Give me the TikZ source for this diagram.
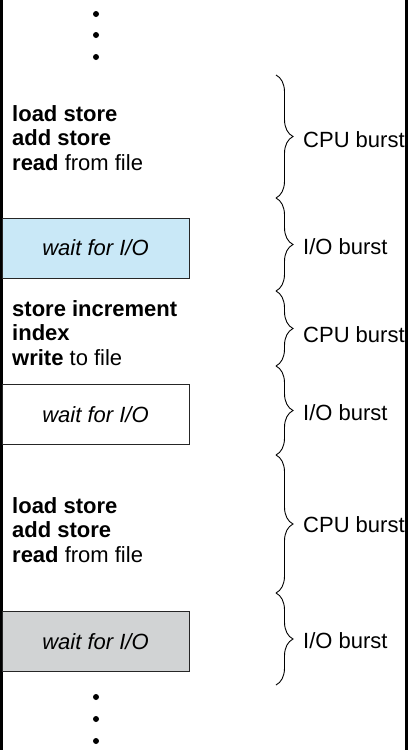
\documentclass[tikz,border=0pt]{standalone}
\usepackage{fontspec}
\setmainfont{Liberation Sans}
\usetikzlibrary{decorations.pathreplacing,positioning}
\definecolor{waitblue}{RGB}{201,232,247}
\definecolor{waitgray}{RGB}{209,211,212}

\begin{document}
\begin{tikzpicture}[x=1pt,y=-1pt,
   waitbox/.style={draw=black!85,line width=1pt,minimum width=187pt,minimum height=60pt,inner sep=0pt,font=\fontsize{22}{25}\selectfont\itshape},
   code/.style={anchor=west,align=left,inner sep=0pt,font=\fontsize{22}{24.5}\selectfont},
   burst/.style={decorate,decoration={brace,amplitude=17pt},line width=0.9pt},
   blabel/.style={anchor=west,inner sep=0pt,font=\fontsize{22}{25}\selectfont}]
   \useasboundingbox (0,0) rectangle (408,750);
   % edge bars
   \fill[black] (0,0) rectangle (2.5,750);
   \fill[black] (405,0) rectangle (408,750);
   % dots
   \foreach \y in {14,35,57,697,719,741}
      \fill (96,\y) circle (3pt);
   % instructions
   \node[code] (cpuA) at (12,138) {\textbf{load store}\\\textbf{add store}\\\textbf{read} from file};
   \node[waitbox,fill=waitblue] (ioA) at (95.5,248) {wait for I/O};
   \node[code] (cpuB) at (12,333) {\textbf{store increment}\\\textbf{index}\\\textbf{write} to file};
   \node[waitbox,fill=white] (ioB) at (95.5,414.5) {wait for I/O};
   \node[code] (cpuC) at (12,530) {\textbf{load store}\\\textbf{add store}\\\textbf{read} from file};
   \node[waitbox,fill=waitgray] (ioC) at (95.5,641.5) {wait for I/O};
   % brace ends
   \coordinate (b0) at (276,75);
   \coordinate (b1) at (276,198);
   \coordinate (b2) at (276,291);
   \coordinate (b3) at (276,366);
   \coordinate (b4) at (276,455);
   \coordinate (b5) at (276,593);
   \coordinate (b6) at (276,685);
   \draw[burst] (b0) -- (b1);
   \draw[burst] (b1) -- (b2);
   \draw[burst] (b2) -- (b3);
   \draw[burst] (b3) -- (b4);
   \draw[burst] (b4) -- (b5);
   \draw[burst] (b5) -- (b6);
   % labels
   \node[blabel] (lA) at (303,140) {CPU burst};
   \node[blabel] (lB) at (303,247) {I/O burst};
   \node[blabel] (lC) at (303,334.5) {CPU burst};
   \node[blabel] (lD) at (303,412.5) {I/O burst};
   \node[blabel] (lE) at (303,525) {CPU burst};
   \node[blabel] (lF) at (303,640.5) {I/O burst};
\end{tikzpicture}
\end{document}
